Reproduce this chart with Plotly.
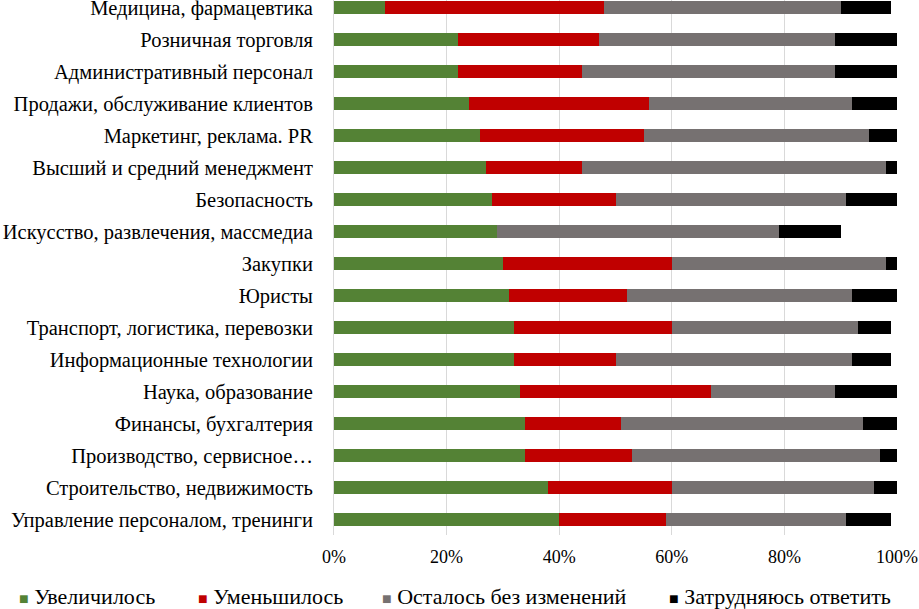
import plotly.graph_objects as go

# categories from bottom to top
categories = [
    "Управление персоналом, тренинги",
    "Строительство, недвижимость",
    "Производство, сервисное…",
    "Финансы, бухгалтерия",
    "Наука, образование",
    "Информационные технологии",
    "Транспорт, логистика, перевозки",
    "Юристы",
    "Закупки",
    "Искусство, развлечения, массмедиа",
    "Безопасность",
    "Высший и средний менеджмент",
    "Маркетинг, реклама. PR",
    "Продажи, обслуживание клиентов",
    "Административный персонал",
    "Розничная торговля",
    "Медицина, фармацевтика",
]

increased = [40, 38, 34, 34, 33, 32, 32, 31, 30, 29, 28, 27, 26, 24, 22, 22, 9]
decreased = [19, 22, 19, 17, 34, 18, 28, 21, 30, 0, 22, 17, 29, 32, 22, 25, 39]
unchanged = [32, 36, 44, 43, 22, 42, 33, 40, 38, 50, 41, 54, 40, 36, 45, 42, 42]
hard_to_say = [8, 4, 3, 6, 11, 7, 6, 8, 2, 11, 9, 2, 5, 8, 11, 11, 9]

series_names = ["Увеличилось", "Уменьшилось", "Осталось без изменений", "Затрудняюсь ответить"]
series_values = [increased, decreased, unchanged, hard_to_say]
colors = ["#548235", "#c00000", "#767171", "#000000"]

# legend entry left edges, pixels
legend_px = [17, 196, 380, 667]

L, R, T, B = 334, 22, 0, 74
W, H = 919, 609
pw = W - L - R
ph = H - T - B

fig = go.Figure()
for name, vals, color in zip(series_names, series_values, colors):
    fig.add_trace(go.Bar(
        y=categories, x=[v / 100 for v in vals], name=name, orientation="h",
        marker=dict(color=color, line=dict(width=0)), width=0.40,
        showlegend=False,
    ))

# legend drawn as text with coloured square glyphs, Excel style
for name, color, px in zip(series_names, colors, legend_px):
    fig.add_annotation(
        xref="paper", yref="paper", x=(px - L) / pw, y=(ph - 596 + T) / ph,
        xanchor="left", yanchor="middle", showarrow=False,
        text=f'<span style="color:{color};font-size:16px">■</span> {name}',
        font=dict(family="Liberation Serif", size=22, color="#000000"),
    )

fig.update_layout(
    barmode="stack",
    width=W, height=H,
    margin=dict(l=L, r=R, t=T, b=B),
    paper_bgcolor="white", plot_bgcolor="white",
    font=dict(family="Liberation Serif", size=20.5, color="#000000"),
    showlegend=False,
)
fig.update_xaxes(
    range=[0, 1], tickvals=[0, 0.2, 0.4, 0.6, 0.8, 1.0], tickformat=".0%",
    showgrid=True, gridcolor="#d9d9d9", gridwidth=1, zeroline=False,
    showline=False, ticks="", ticklabelstandoff=9, automargin=False,
    tickfont=dict(size=18),
)
fig.update_yaxes(
    type="category", range=[-0.48, 16.23], showgrid=False, zeroline=False,
    showline=True, linecolor="#d9d9d9", linewidth=1,
    ticks="", ticklabelstandoff=16, automargin=False,
)

fig.write_html("out.html", config={"displayModeBar": False},
               post_script="document.body.style.margin = '0px';")
